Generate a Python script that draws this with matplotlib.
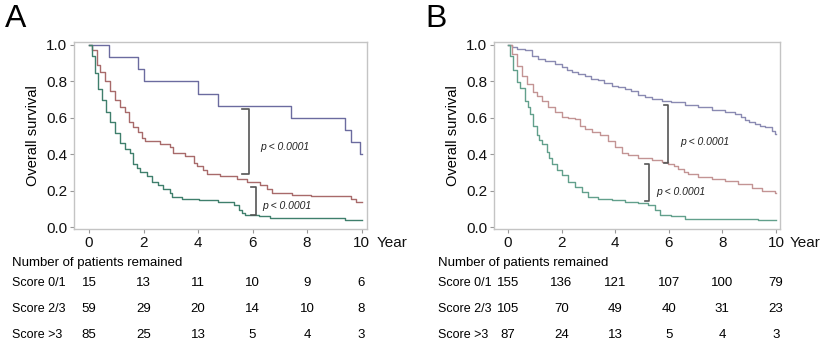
import matplotlib
matplotlib.use("Agg")
import matplotlib.pyplot as plt

plt.rcParams['font.family'] = ['Liberation Sans', 'DejaVu Sans']

# ---- Panel A: survival curves (years, survival fraction) ----
a_t01 = [0, 0.75, 1.81, 2.02, 4.0, 4.72, 7.41, 9.39, 9.62, 9.96, 10.0]
a_s01 = [1.0, 0.933, 0.867, 0.80, 0.733, 0.667, 0.60, 0.533, 0.467, 0.40, 0.40]

a_t23 = [0, 0.10, 0.28, 0.40, 0.59, 0.77, 0.96, 1.14, 1.32, 1.45, 1.63, 1.81, 1.94,
         2.06, 2.61, 2.98, 3.10, 3.53, 3.84, 3.96, 4.20, 4.33, 4.82, 5.43, 5.80,
         6.29, 6.53, 6.72, 7.45, 8.13, 9.60, 9.78, 10.0]
a_s23 = [1.0, 0.97, 0.89, 0.85, 0.80, 0.75, 0.70, 0.66, 0.63, 0.58, 0.55, 0.525, 0.49,
         0.476, 0.458, 0.443, 0.41, 0.39, 0.352, 0.338, 0.316, 0.294, 0.279, 0.265, 0.246,
         0.232, 0.21, 0.19, 0.18, 0.17, 0.155, 0.14, 0.14]

a_t3 = [0, 0.10, 0.22, 0.34, 0.47, 0.63, 0.77, 0.96, 1.14, 1.32, 1.51, 1.63, 1.75, 1.88,
        2.12, 2.30, 2.55, 2.73, 2.98, 3.04, 3.41, 4.02, 4.75, 5.31, 5.49, 5.61, 5.74,
        6.23, 6.65, 9.41, 10.0]
a_s3 = [1.0, 0.94, 0.845, 0.76, 0.70, 0.635, 0.58, 0.515, 0.46, 0.43, 0.41, 0.35, 0.325, 0.306,
        0.28, 0.25, 0.233, 0.21, 0.19, 0.166, 0.157, 0.148, 0.137, 0.124, 0.097, 0.078, 0.07,
        0.06, 0.051, 0.042, 0.042]

# ---- Panel B ----
b_t01 = [0, 0.14, 0.32, 0.63, 0.88, 1.13, 1.38, 1.75, 2.0, 2.2, 2.38, 2.6, 2.87, 3.1, 3.37,
         3.6, 3.87, 4.1, 4.37, 4.6, 4.86, 5.1, 5.36, 5.73, 6.1, 6.6, 7.1, 7.6, 8.1, 8.47,
         8.7, 8.84, 9.0, 9.2, 9.4, 9.6, 9.84, 9.96, 10.0]
b_s01 = [1.0, 0.99, 0.978, 0.97, 0.94, 0.923, 0.914, 0.896, 0.878, 0.862, 0.85, 0.838, 0.827, 0.815, 0.805,
         0.79, 0.777, 0.768, 0.76, 0.745, 0.728, 0.715, 0.704, 0.69, 0.686, 0.673, 0.659, 0.644, 0.631, 0.622,
         0.605, 0.586, 0.575, 0.564, 0.557, 0.55, 0.53, 0.513, 0.513]

b_t23 = [0, 0.14, 0.32, 0.51, 0.70, 0.95, 1.10, 1.26, 1.50, 1.75, 2.0, 2.25, 2.5, 2.69, 2.87,
         3.12, 3.43, 3.74, 3.99, 4.24, 4.49, 4.86, 5.36, 5.73, 5.98, 6.2, 6.36, 6.55, 6.73,
         7.1, 7.6, 8.1, 8.6, 9.1, 9.47, 9.96, 10.0]
b_s23 = [1.0, 0.95, 0.887, 0.83, 0.786, 0.74, 0.72, 0.695, 0.66, 0.63, 0.604, 0.60, 0.595, 0.558, 0.54,
         0.52, 0.504, 0.476, 0.44, 0.407, 0.394, 0.381, 0.37, 0.358, 0.35, 0.335, 0.32, 0.305, 0.294,
         0.275, 0.266, 0.254, 0.239, 0.217, 0.199, 0.188, 0.188]

b_t3 = [0, 0.07, 0.20, 0.32, 0.45, 0.63, 0.73, 0.82, 0.95, 1.07, 1.17, 1.26, 1.44, 1.55, 1.63,
        1.82, 2.0, 2.25, 2.5, 2.75, 3.0, 3.37, 3.87, 4.37, 4.86, 5.24, 5.49, 5.67, 6.1,
        6.6, 9.34, 10.0]
b_s3 = [1.0, 0.94, 0.86, 0.795, 0.765, 0.695, 0.66, 0.622, 0.558, 0.504, 0.48, 0.458, 0.412, 0.38, 0.349,
        0.312, 0.285, 0.248, 0.221, 0.193, 0.166, 0.157, 0.148, 0.139, 0.133, 0.12, 0.093, 0.066, 0.06,
        0.047, 0.038, 0.038]

# ---- number at risk tables ----
risk_years = [0, 2, 4, 6, 8, 10]
row_labels = ['Score 0/1', 'Score 2/3', 'Score >3']
a_risk = [[15, 13, 11, 10, 9, 6],
          [59, 29, 20, 14, 10, 8],
          [85, 25, 13, 5, 4, 3]]
b_risk = [[155, 136, 121, 107, 100, 79],
          [105, 70, 49, 40, 31, 23],
          [87, 24, 13, 5, 4, 3]]

fig = plt.figure(figsize=(8.24, 3.45), dpi=100)
W, H = 824, 345

def setup(ax, xlim):
    ax.set_xlim(*xlim)
    ax.set_ylim(-0.009, 1.016)
    ax.set_xticks(risk_years)
    ax.set_yticks([0, 0.2, 0.4, 0.6, 0.8, 1.0])
    ax.set_yticklabels(['0.0', '0.2', '0.4', '0.6', '0.8', '1.0'])
    for s in ax.spines.values():
        s.set_color('#c4c4c4')
        s.set_linewidth(1.0)
    ax.tick_params(direction='out', length=3, width=0.8, color='#999999',
                   labelsize=11, pad=2, labelcolor='#111111')
    ax.set_ylabel('Overall survival', fontsize=10.5, labelpad=4)

def bracket(ax, x, top, bot, w):
    ax.plot([x - w, x, x, x - w], [top, top, bot, bot], color='#555555', lw=1.2)

panels = [
    ('A', [74, 367], [-0.55, 10.2], a_t01, a_s01, a_t23, a_s23, a_t3, a_s3, a_risk, 12,
     ['#6b6b9f', '#a86a6a', '#3f7f6c'],
     [(5.86, 0.651, 0.292, 0.25, 6.29, 0.438), (6.11, 0.219, 0.069, 0.15, 6.35, 0.119)]),
    ('B', [494, 780], [-0.52, 10.15], b_t01, b_s01, b_t23, b_s23, b_t3, b_s3, b_risk, 438,
     ['#8a8ab2', '#c39494', '#62a08c'],
     [(5.98, 0.668, 0.354, 0.15, 6.42, 0.467), (5.25, 0.349, 0.142, 0.15, 5.55, 0.195)]),
]

for (lab, xpx, xlim, t1, s1, t2, s2, t3, s3, risk, lpx, cols, brs) in panels:
    ax = fig.add_axes([xpx[0] / W, 1 - 229 / H, (xpx[1] - xpx[0]) / W, (229 - 42) / H])
    setup(ax, xlim)
    ax.step(t1, s1, where='post', color=cols[0], lw=1.0)
    ax.step(t2, s2, where='post', color=cols[1], lw=1.0)
    ax.step(t3, s3, where='post', color=cols[2], lw=1.0)
    for (bx, btop, bbot, bw, tx, ty) in brs:
        bracket(ax, bx, btop, bbot, bw)
        ax.text(tx, ty, 'p < 0.0001', fontsize=7.5, style='italic', color='#222222',
                va='center', ha='left')
    ax.text(1.0 + 10 / (xpx[1] - xpx[0]), -0.035, 'Year', transform=ax.transAxes,
            fontsize=11, va='top', ha='left', color='#111111')
    fig.text((xpx[0] - 69) / W, 1 - 4 / H, lab, fontsize=23, va='top', ha='left')

    # number at risk
    fig.text(lpx / W, 1 - 262.7 / H, 'Number of patients remained', fontsize=9.5,
             va='center', ha='left')
    row_y = [283.3, 309.3, 335.0]
    for r, name in enumerate(row_labels):
        fig.text(lpx / W, 1 - row_y[r] / H, name, fontsize=9, va='center', ha='left')
        yax = (229 - row_y[r]) / (229 - 42)
        for yr, n in zip(risk_years, risk[r]):
            ax.text(yr, yax, str(n), transform=ax.get_xaxis_transform(), fontsize=9.5,
                    va='center', ha='center', clip_on=False)

fig.savefig('out.png', dpi=100)
